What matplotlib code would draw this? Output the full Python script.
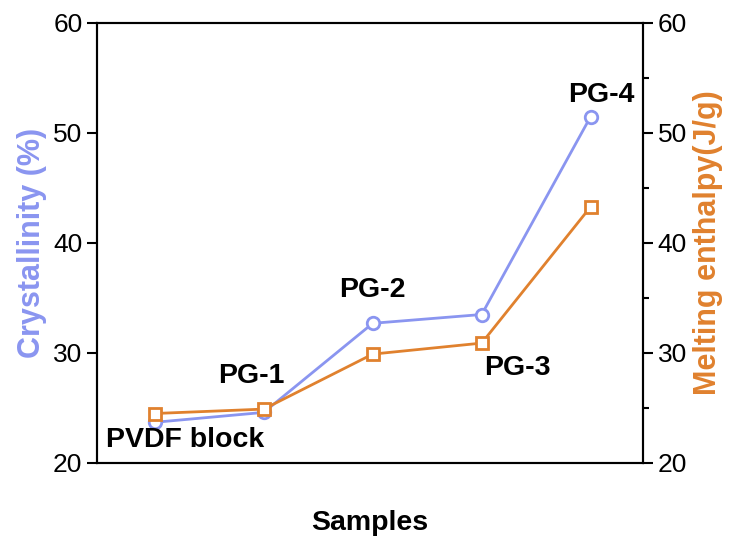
import matplotlib.pyplot as plt
import numpy as np

plt.rcParams["font.family"] = ["Liberation Sans", "DejaVu Sans"]

samples = ["PVDF block", "PG-1", "PG-2", "PG-3", "PG-4"]
crystallinity = [23.7, 24.6, 32.7, 33.5, 51.5]   # %
enthalpy = [24.5, 24.9, 29.9, 30.9, 43.3]        # J/g

blue = "#8a95f0"
orange = "#e0812e"

x = np.arange(len(samples))

fig = plt.figure(figsize=(7.32, 5.40), dpi=100)
ax = fig.add_axes([97 / 732, 1 - 463 / 540, 546 / 732, 440 / 540])
ax2 = ax.twinx()

ax.plot(x, crystallinity, color=blue, lw=2, marker="o", ms=9,
        mfc="white", mec=blue, mew=2, zorder=3)
ax2.plot(x, enthalpy, color=orange, lw=2, marker="s", ms=8,
         mfc="white", mec=orange, mew=2, zorder=3)

ax.set_xlim(-0.53, 4.48)
ax.set_ylim(20, 60)
ax2.set_ylim(20, 60)
ax.set_xticks([])
ax.set_yticks([20, 30, 40, 50, 60])
ax2.set_yticks([20, 30, 40, 50, 60])
ax2.set_yticks([25, 35, 45, 55], minor=True)

for a in (ax, ax2):
    for s in a.spines.values():
        s.set_linewidth(1.5)
    a.tick_params(direction="out", length=7, width=1.5, labelsize=19)
ax2.tick_params(which="minor", direction="out", length=4, width=1.5)

ax.set_ylabel("Crystallinity (%)", color=blue, fontsize=22, fontweight="bold", labelpad=4)
ax2.set_ylabel("Melting enthalpy(J/g)", color=orange, fontsize=22, fontweight="bold", labelpad=4)
ax.set_xlabel("Samples", fontsize=20.5, fontweight="bold", labelpad=34)

# sample names placed beside each point
label_pos = [(0.28, 22.1), (-0.11, 27.9), (0.0, 35.7), (0.33, 28.6), (0.10, 53.5)]
for i, (name, (dx, yy)) in enumerate(zip(samples, label_pos)):
    ax.text(x[i] + dx, yy, name, ha="center", va="center",
            fontsize=20.5, fontweight="bold")

fig.savefig("out.png", dpi=100)
